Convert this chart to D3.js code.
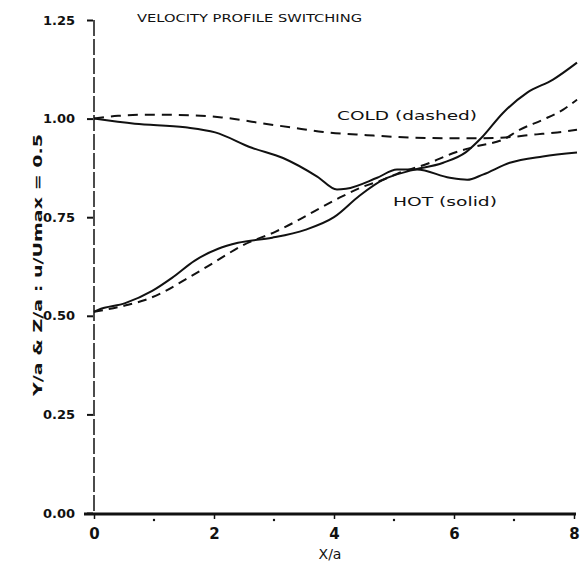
<!DOCTYPE html>
<html>
<head>
<meta charset="utf-8">
<script src="https://cdn.jsdelivr.net/npm/d3@7"></script>
<style>
  body { margin: 0; background: #fff; }
  svg text { font-family: "DejaVu Sans", sans-serif; fill: #111; }
</style>
</head>
<body>
<div id="chart"></div>
<script>
// values
var hotUpperX = [0, 0.68, 1.52, 2.02, 2.63, 3.15, 3.72, 4.05, 4.2, 4.72, 5.05, 5.38, 5.93, 6.22, 6.48, 6.93, 7.48, 8.05];
var hotUpperY = [1.0, 0.987, 0.978, 0.965, 0.926, 0.9, 0.853, 0.82, 0.822, 0.85, 0.871, 0.871, 0.85, 0.845, 0.858, 0.888, 0.904, 0.914];

var hotLowerX = [0, 0.07, 0.52, 0.97, 1.3, 1.68, 2.07, 2.4, 2.97, 3.52, 4.0, 4.43, 4.82, 5.27, 5.82, 6.2, 6.45, 6.82, 7.22, 7.65, 8.05];
var hotLowerY = [0.51, 0.515, 0.532, 0.563, 0.596, 0.64, 0.67, 0.685, 0.698, 0.718, 0.75, 0.805, 0.845, 0.868, 0.888, 0.915, 0.95, 1.015, 1.066, 1.099, 1.142];

var coldUpperX = [0, 0.4, 0.97, 1.68, 2.13, 2.52, 2.72, 3.27, 3.82, 4.55, 5.27, 5.55, 6.22, 6.7, 7.38, 7.72, 8.05];
var coldUpperY = [1.0, 1.007, 1.01, 1.008, 1.003, 0.995, 0.99, 0.978, 0.966, 0.958, 0.952, 0.951, 0.95, 0.951, 0.96, 0.965, 0.972];

var coldLowerX = [0, 0.57, 0.85, 1.18, 1.52, 1.9, 2.23, 2.47, 3.02, 3.35, 3.73, 4.1, 4.48, 4.82, 5.05, 5.6, 5.98, 6.38, 6.82, 7.1, 7.48, 7.82, 8.05];
var coldLowerY = [0.51, 0.528, 0.54, 0.562, 0.592, 0.626, 0.657, 0.678, 0.713, 0.738, 0.77, 0.8, 0.827, 0.845, 0.86, 0.888, 0.912, 0.93, 0.947, 0.972, 0.997, 1.023, 1.048];

var xTicks = [0, 2, 4, 6, 8];
var xMinor = [1, 3, 5, 7];
var yTicks = [0, 0.25, 0.5, 0.75, 1.0, 1.25];

var w = 582, h = 570;

var svg = d3.select("#chart").append("svg")
    .attr("width", w)
    .attr("height", h);

var x = d3.scaleLinear().domain([0, 8]).range([94, 574]);
var y = d3.scaleLinear().domain([0, 1.25]).range([513, 20]);

function zip(xs, ys) {
    return xs.map(function (d, i) { return [d, ys[i]]; });
}

var line = d3.line()
    .x(function (d) { return x(d[0]); })
    .y(function (d) { return y(d[1]); })
    .curve(d3.curveMonotoneX);

// y axis: dashed spine, ticks pointing left
svg.append("line")
    .attr("x1", x(0)).attr("x2", x(0))
    .attr("y1", y(1.25)).attr("y2", y(0))
    .attr("stroke", "#111")
    .attr("stroke-width", 1.5)
    .attr("stroke-dasharray", "16,3");

var yAxis = svg.append("g")
    .attr("transform", "translate(" + (x(0) - 1) + ",0)")
    .call(d3.axisLeft(y).tickValues(yTicks).tickFormat(d3.format(".2f")).tickSize(6).tickPadding(12));
yAxis.select(".domain").remove();
yAxis.selectAll(".tick line").attr("stroke", "#111").attr("stroke-width", 2);
yAxis.selectAll(".tick text")
    .style("font-size", "13px")
    .style("font-weight", "bold")
    .attr("fill", "#111");

// x axis: heavy baseline
var xAxis = svg.append("g")
    .attr("transform", "translate(0," + (y(0) + 1) + ")")
    .call(d3.axisBottom(x).tickValues(xTicks).tickFormat(d3.format("d")).tickSize(5).tickSizeOuter(0).tickPadding(9));
xAxis.select(".domain")
    .attr("d", "M84,0H576")
    .attr("stroke", "#111")
    .attr("stroke-width", 3);
xAxis.selectAll(".tick line").attr("stroke", "#111").attr("stroke-width", 1.5);
xAxis.selectAll(".tick text")
    .style("font-size", "15px")
    .style("font-weight", "bold")
    .attr("fill", "#111");

svg.append("g").selectAll("circle")
    .data(xMinor)
    .enter().append("circle")
    .attr("cx", function (d) { return x(d); })
    .attr("cy", y(0) + 7)
    .attr("r", 1.2)
    .attr("fill", "#111");

// curves
var series = [
    {pts: zip(hotUpperX, hotUpperY), dash: null},
    {pts: zip(hotLowerX, hotLowerY), dash: null},
    {pts: zip(coldUpperX, coldUpperY), dash: "10,7"},
    {pts: zip(coldLowerX, coldLowerY), dash: "9,6"}
];

svg.append("g").selectAll("path")
    .data(series)
    .enter().append("path")
    .attr("d", function (d) { return line(d.pts); })
    .attr("fill", "none")
    .attr("stroke", "#111")
    .attr("stroke-width", 2)
    .attr("stroke-dasharray", function (d) { return d.dash; });

// texts
svg.append("text")
    .attr("x", 137).attr("y", 22)
    .attr("textLength", 225)
    .attr("lengthAdjust", "spacingAndGlyphs")
    .style("font-size", "11px")
    .text("VELOCITY PROFILE SWITCHING");

svg.append("text")
    .attr("x", 337).attr("y", 120)
    .attr("textLength", 140)
    .attr("lengthAdjust", "spacingAndGlyphs")
    .style("font-size", "13px")
    .text("COLD (dashed)");

svg.append("text")
    .attr("x", 393).attr("y", 206)
    .attr("textLength", 104)
    .attr("lengthAdjust", "spacingAndGlyphs")
    .style("font-size", "13px")
    .text("HOT (solid)");

svg.append("text")
    .attr("transform", "translate(42,265) rotate(-90)")
    .attr("text-anchor", "middle")
    .attr("textLength", 262)
    .attr("lengthAdjust", "spacingAndGlyphs")
    .style("font-size", "13px")
    .style("font-weight", "600")
    .text("Y/a & Z/a : u/Umax = 0.5");

svg.append("text")
    .attr("x", 330).attr("y", 559)
    .attr("text-anchor", "middle")
    .style("font-size", "14px")
    .text("X/a");
</script>
</body>
</html>
